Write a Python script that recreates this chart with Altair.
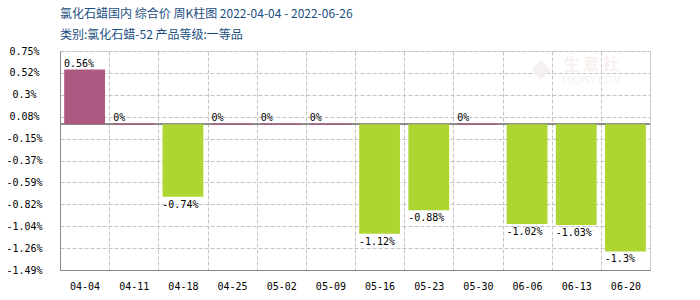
import altair as alt
import pandas as pd

dates = ["04-04", "04-11", "04-18", "04-25", "05-02", "05-09",
         "05-16", "05-23", "05-30", "06-06", "06-13", "06-20"]
values = [0.56, 0, -0.74, 0, 0, 0, -1.12, -0.88, 0, -1.02, -1.03, -1.3]
labels = ["0.56%", "0%", "-0.74%", "0%", "0%", "0%",
          "-1.12%", "-0.88%", "0%", "-1.02%", "-1.03%", "-1.3%"]
y_tick_labels = ["0.75%", "0.52%", "0.3%", "0.08%", "-0.15%", "-0.37%",
                 "-0.59%", "-0.82%", "-1.04%", "-1.26%", "-1.49%"]
y_max, y_min = 0.75, -1.49

title_line = "氯化石蜡国内 综合价 周K柱图 2022-04-04 - 2022-06-26"
subtitle_line = "类别:氯化石蜡-52 产品等级:一等品"

POS = "#AD5A82"
NEG = "#ADD632"
GRID = "#c4c4c4"
MONO = "DejaVu Sans Mono"

df = pd.DataFrame({"date": dates, "value": values, "label": labels})

n = len(y_tick_labels)
step = (y_max - y_min) / (n - 1)
tick_values = [round(y_max - i * step, 6) for i in range(n)]
label_expr = ("[" + ",".join(f"'{l}'" for l in y_tick_labels) + "]"
              + f"[round(({y_max} - datum.value) / {step})]")

x_enc = alt.X(
    "date:N", sort=dates,
    scale=alt.Scale(paddingInner=0, paddingOuter=0),
    axis=alt.Axis(title=None, labelAngle=0, tickBand="extent", ticks=False,
                  grid=True, gridDash=[4, 2], gridColor=GRID,
                  domainColor="#888888", labelFont=MONO, labelFontSize=10,
                  labelColor="#000000", labelPadding=11, labelOverlap=False),
)
y_enc = alt.Y(
    "value:Q",
    scale=alt.Scale(domain=[y_min, y_max], nice=False, zero=False),
    axis=alt.Axis(title=None, values=tick_values, tickCount=n,
                  labelExpr=label_expr,
                  ticks=False, tickSize=0, labelAlign="center",
                  labelPadding=36, grid=True, gridDash=[4, 2],
                  gridColor=GRID, domainColor="#888888", labelFont=MONO,
                  labelFontSize=10, labelColor="#000000",
                  labelOverlap=False, labelFlush=False),
)

base = alt.Chart(df)

zero_rule = base.mark_rule(color="#888888", strokeWidth=1).encode(
    y=alt.datum(0)
)

bars = base.mark_bar(width=alt.RelativeBandSize(0.83)).encode(
    x=x_enc,
    y=y_enc,
    y2=alt.datum(0),
    color=alt.condition(alt.datum.value >= 0, alt.value(POS), alt.value(NEG)),
)

zero_bars = base.transform_filter(alt.datum.value == 0).mark_bar(
    width=alt.RelativeBandSize(0.83), stroke=POS, strokeWidth=1, fill=POS
).encode(x=x_enc, y=y_enc, y2=alt.datum(0))

pos_text = base.transform_filter(alt.datum.value >= 0).mark_text(
    align="left", baseline="bottom", dx=4, dy=-1, font=MONO, fontSize=10,
    color="#000000"
).encode(x=alt.X("date:N", sort=dates, bandPosition=0), y="value:Q",
         text="label:N")

neg_text = base.transform_filter(alt.datum.value < 0).mark_text(
    align="left", baseline="top", dx=4, dy=3, font=MONO, fontSize=10,
    color="#000000"
).encode(x=alt.X("date:N", sort=dates, bandPosition=0), y="value:Q",
         text="label:N")

logo = alt.Chart(pd.DataFrame({"t": ["logo"]})).mark_point(
    shape="diamond", filled=True, size=380, color="#f7f0f0", opacity=1
).encode(x=alt.value(481), y=alt.value(19))
wm1 = alt.Chart(pd.DataFrame({"t": ["生 意 社"]})).mark_text(
    font="Noto Sans CJK SC", fontSize=16, fontWeight="bold",
    color="#f8efef", align="center", baseline="middle"
).encode(text="t:N", x=alt.value(531), y=alt.value(14))
wm2 = alt.Chart(pd.DataFrame({"t": ["100PPI.COM"]})).mark_text(
    font="DejaVu Sans", fontSize=10, color="#f3f3f3", align="center",
    baseline="middle"
).encode(text="t:N", x=alt.value(531), y=alt.value(30))

chart = alt.layer(logo, wm1, wm2, zero_rule, bars, zero_bars, pos_text, neg_text).properties(
    width=590, height=219,
    autosize=alt.AutoSizeParams(type="none"),
    padding={"left": 60, "top": 51, "right": 50, "bottom": 30},
    title=alt.Title(text=title_line, subtitle=subtitle_line,
                    anchor="start", frame="group",
                    font="Noto Sans CJK SC", fontSize=12, fontWeight="normal",
                    color="#1b4f7f", subtitleFont="Noto Sans CJK SC",
                    subtitleFontSize=12, subtitleColor="#1b4f7f",
                    subtitlePadding=9, offset=4),
).configure_view(stroke=GRID, strokeDash=[4, 2]).configure(background="#ffffff")

chart.save("out.html", embed_options={"renderer": "svg", "actions": False})
